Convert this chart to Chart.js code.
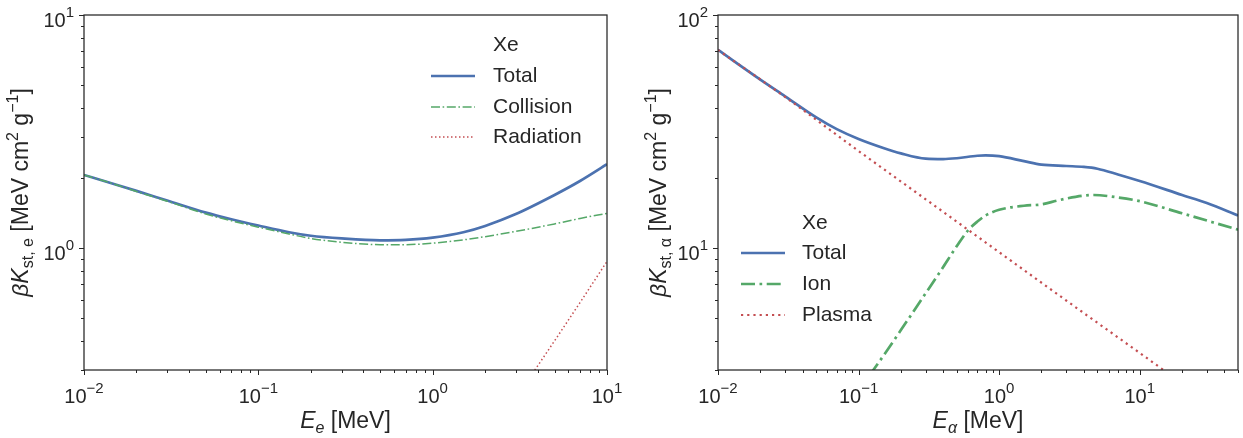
<!DOCTYPE html>
<html><head><meta charset="utf-8">
<script src="https://cdn.jsdelivr.net/npm/chart.js@4.4.0/dist/chart.umd.min.js"></script>
<style>
html,body{margin:0;padding:0;background:#fff;}
#wrap{position:relative;width:1243px;height:438px;background:#fff;}
canvas{position:absolute;left:0;top:0;}
</style></head><body>
<div id="wrap"><canvas id="c1" width="1243" height="438"></canvas><canvas id="c2" width="1243" height="438"></canvas></div>
<script>
// ---------- Left panel: electrons in Xe ----------
const eEnergy    = [0.01, 0.015, 0.02, 0.03, 0.05, 0.07, 0.1, 0.15, 0.2, 0.3, 0.5, 0.7, 1, 1.5, 2, 3, 5, 7, 10];
const eTotal     = [2.06, 1.88, 1.76, 1.60, 1.42, 1.33, 1.25, 1.17, 1.13, 1.10, 1.08, 1.085, 1.11, 1.17, 1.245, 1.40, 1.69, 1.94, 2.29];
const eCollision = [2.06, 1.88, 1.75, 1.59, 1.40, 1.31, 1.23, 1.15, 1.10, 1.06, 1.035, 1.035, 1.05, 1.085, 1.12, 1.18, 1.27, 1.34, 1.41];
const eRadEnergy = [1, 2, 3, 5, 7, 10];
const eRadiation = [0.066, 0.144, 0.227, 0.40, 0.584, 0.877];
const eXTicks = [0.01, 0.1, 1, 10];
const eXTickExp = ['\u22122', '\u22121', '0', '1'];
const eYTicks = [1, 10];
const eYTickExp = ['0', '1'];

// ---------- Right panel: alpha particles in Xe ----------
const aTotalEnergy = [0.01, 0.02, 0.03, 0.05, 0.07, 0.1, 0.15, 0.2, 0.3, 0.4, 0.5, 0.7, 0.8, 1, 1.5, 2, 3, 4, 5, 7, 10, 20, 30, 50];
const aTotal       = [70.8, 52.8, 44.8, 36.4, 32.4, 29.4, 26.9, 25.5, 24.2, 24.1, 24.3, 24.9, 25.0, 24.8, 23.6, 22.8, 22.5, 22.3, 21.9, 20.7, 19.4, 16.9, 15.6, 13.8];
const aIonEnergy   = [0.12, 0.15, 0.2, 0.3, 0.4, 0.5, 0.6, 0.7, 0.8, 1, 1.5, 2, 2.6, 3.5, 4.7, 7, 10, 20, 50];
const aIon         = [2.85, 3.45, 4.45, 6.4, 8.3, 10.2, 11.9, 13.0, 13.8, 14.6, 15.2, 15.4, 16.0, 16.6, 16.9, 16.5, 15.9, 14.1, 12.0];
const aPlasmaEnergy = [0.01, 0.03, 0.1, 0.3, 1, 3, 10, 20];
const aPlasma       = [70.8, 44.5, 26.1, 16.2, 9.6, 5.96, 3.55, 2.63];
const aXTicks = [0.01, 0.1, 1, 10];
const aXTickExp = ['\u22122', '\u22121', '0', '1'];
const aYTicks = [10, 100];
const aYTickExp = ['1', '2'];

const BLUE = '#4C72B0', GREEN = '#55A868', RED = '#C44E52', TXT = '#262626';
const FONT = '"Liberation Sans", Arial, Helvetica, sans-serif';
const F = (px, style) => (style ? style + ' ' : '') + px + 'px ' + FONT;

function pts(xs, ys){ return xs.map((x, i) => ({x: x, y: ys[i]})); }

function richWidth(ctx, segs){ let w = 0; for (const s of segs){ ctx.font = s.f; w += ctx.measureText(s.t).width; } return w; }
function drawRich(ctx, segs, x, y, align){
  const w = richWidth(ctx, segs);
  let cx = align === 'center' ? x - w/2 : (align === 'right' ? x - w : x);
  ctx.textAlign = 'left'; ctx.textBaseline = 'alphabetic';
  for (const s of segs){ ctx.font = s.f; ctx.fillText(s.t, cx, y + (s.dy || 0)); cx += ctx.measureText(s.t).width; }
}
function allTicks(min, max){
  const out = [];
  for (let e = Math.floor(Math.log10(min)) ; e <= Math.ceil(Math.log10(max)); e++){
    for (let m = 1; m < 10; m++){
      const v = m * Math.pow(10, e);
      if (v >= min * 0.9999 && v <= max * 1.0001) out.push({v: v, major: m === 1});
    }
  }
  return out;
}

const TICK_PX = 20, SUP_PX = 15, LEG_PX = 21, LAB_PX = 23, LABSUB_PX = 16;

const deco = {
  id: 'deco',
  afterDraw(chart, args, o){
    const ctx = chart.ctx, a = chart.chartArea, xs = chart.scales.x, ys = chart.scales.y;
    ctx.save();
    ctx.fillStyle = TXT; ctx.strokeStyle = TXT;
    ctx.lineWidth = 1;
    for (const t of allTicks(xs.min, xs.max)){
      const px = Math.round(xs.getPixelForValue(t.v)) + 0.5;
      ctx.beginPath(); ctx.moveTo(px, a.bottom); ctx.lineTo(px, a.bottom + (t.major ? 5 : 3)); ctx.stroke();
    }
    for (const t of allTicks(ys.min, ys.max)){
      const py = Math.round(ys.getPixelForValue(t.v)) + 0.5;
      ctx.beginPath(); ctx.moveTo(a.left, py); ctx.lineTo(a.left - (t.major ? 5 : 3), py); ctx.stroke();
    }
    ctx.lineWidth = 1.25;
    ctx.strokeRect(a.left, a.top, a.right - a.left, a.bottom - a.top);
    o.xTicks.forEach((v, i) => {
      const px = xs.getPixelForValue(v);
      drawRich(ctx, [{t:'10', f:F(TICK_PX)}, {t:o.xExp[i], f:F(SUP_PX), dy:-10}], px, a.bottom + 33, 'center');
    });
    o.yTicks.forEach((v, i) => {
      const py = ys.getPixelForValue(v);
      drawRich(ctx, [{t:'10', f:F(TICK_PX)}, {t:o.yExp[i], f:F(SUP_PX), dy:-10}], a.left - 10, py + 12, 'right');
    });
    drawRich(ctx, o.xTitle, (a.left + a.right)/2, 428, 'center');
    ctx.save();
    ctx.translate(a.left - o.yTitleOff, (a.top + a.bottom)/2);
    ctx.rotate(-Math.PI/2);
    drawRich(ctx, o.yTitle, 0, 0, 'center');
    ctx.restore();
    const L = o.legend;
    ctx.font = F(LEG_PX); ctx.textBaseline = 'middle'; ctx.textAlign = 'left';
    ctx.fillText(L.title, L.textX, L.titleY);
    chart.data.datasets.forEach((ds, i) => {
      const y = L.rowY[i];
      ctx.save();
      ctx.strokeStyle = ds.borderColor; ctx.lineWidth = ds.borderWidth;
      ctx.setLineDash(ds.borderDash || []); ctx.lineCap = 'butt';
      ctx.beginPath(); ctx.moveTo(L.x0, y); ctx.lineTo(L.x1, y); ctx.stroke();
      ctx.restore();
      ctx.fillStyle = TXT; ctx.font = F(LEG_PX); ctx.textBaseline = 'middle';
      ctx.fillText(ds.label, L.textX, y);
    });
    ctx.restore();
  }
};

function makeChart(id, datasets, sc, pad, decoOpts){
  return new Chart(document.getElementById(id), {
    type: 'line',
    data: { datasets: datasets },
    options: {
      responsive: false, animation: false, devicePixelRatio: 1,
      layout: { padding: pad },
      elements: { point: { radius: 0 }, line: { cubicInterpolationMode: 'monotone', borderCapStyle: 'butt' } },
      plugins: { legend: { display: false }, tooltip: { enabled: false }, deco: decoOpts },
      scales: {
        x: { type: 'logarithmic', min: sc.xmin, max: sc.xmax, display: false },
        y: { type: 'logarithmic', min: sc.ymin, max: sc.ymax, display: false }
      }
    },
    plugins: [deco]
  });
}

const ySegs = (sub) => [{t:'\u03B2K', f:F(LAB_PX,'italic')}, {t:sub, f:F(LABSUB_PX), dy:5}, {t:' [MeV cm', f:F(LAB_PX)}, {t:'2', f:F(LABSUB_PX), dy:-10}, {t:' g', f:F(LAB_PX)}, {t:'\u22121', f:F(LABSUB_PX), dy:-10}, {t:']', f:F(LAB_PX)}];

makeChart('c1', [
  { label: 'Total', data: pts(eEnergy, eTotal), borderColor: BLUE, borderWidth: 2.7, order: 3, clip: 0 },
  { label: 'Collision', data: pts(eEnergy, eCollision), borderColor: GREEN, borderWidth: 1.5, borderDash: [9, 2.6, 1.6, 2.6], order: 2, clip: 0 },
  { label: 'Radiation', data: pts(eRadEnergy, eRadiation), borderColor: RED, borderWidth: 1.5, borderDash: [1.5, 2.5], order: 1, clip: 0 }
], { xmin: 0.01, xmax: 10, ymin: 0.3, ymax: 10 },
{ left: 84, right: 636, top: 15, bottom: 68 },
{
  xTicks: eXTicks, xExp: eXTickExp, yTicks: eYTicks, yExp: eYTickExp,
  xTitle: [{t:'E', f:F(LAB_PX,'italic')}, {t:'e', f:F(LABSUB_PX,'italic'), dy:5}, {t:' [MeV]', f:F(LAB_PX)}],
  yTitle: ySegs('st, e'),
  yTitleOff: 56,
  legend: { title: 'Xe', titleY: 45, rowY: [76, 107, 137], x0: 431, x1: 475, textX: 493 }
});

makeChart('c2', [
  { label: 'Total', data: pts(aTotalEnergy, aTotal), borderColor: BLUE, borderWidth: 2.7, order: 3, clip: 0 },
  { label: 'Ion', data: pts(aIonEnergy, aIon), borderColor: GREEN, borderWidth: 2.7, borderDash: [14, 4.5, 2.7, 4.5], order: 2, clip: 0 },
  { label: 'Plasma', data: pts(aPlasmaEnergy, aPlasma), borderColor: RED, borderWidth: 2.2, borderDash: [2.2, 4], order: 1, clip: 0 }
], { xmin: 0.01, xmax: 50, ymin: 3, ymax: 100 },
{ left: 718, right: 5, top: 15, bottom: 68 },
{
  xTicks: aXTicks, xExp: aXTickExp, yTicks: aYTicks, yExp: aYTickExp,
  xTitle: [{t:'E', f:F(LAB_PX,'italic')}, {t:'\u03B1', f:F(LABSUB_PX,'italic'), dy:5}, {t:' [MeV]', f:F(LAB_PX)}],
  yTitle: ySegs('st, \u03B1'),
  yTitleOff: 52,
  legend: { title: 'Xe', titleY: 223, rowY: [253, 284, 315], x0: 741, x1: 785, textX: 802 }
});
</script>
</body></html>
